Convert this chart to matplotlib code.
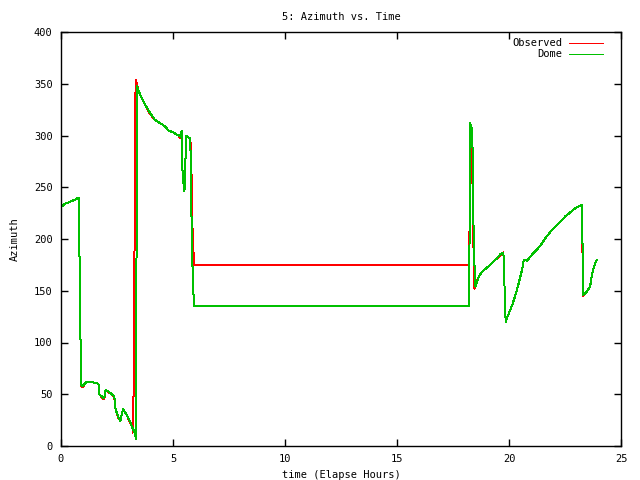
import numpy as np
import matplotlib
matplotlib.use("Agg")
import matplotlib.pyplot as plt

# elapsed hours / azimuth (deg)
t_obs = [0, 0.18, 0.4, 0.62, 0.7, 0.8, 0.82, 0.87, 0.9, 0.97, 1.0, 1.15, 1.37, 1.67, 1.71,
         1.82, 1.93, 1.99, 2.11, 2.26, 2.38, 2.44, 2.56, 2.65, 2.77, 2.93, 3.08,
         3.18, 3.22, 3.26, 3.30, 3.33, 3.38, 3.45, 3.6, 3.75, 3.97, 4.2, 4.42,
         4.64, 4.79, 5.01, 5.24, 5.31, 5.39, 5.43, 5.51, 5.54, 5.58, 5.76, 5.80,
         5.84, 5.88, 5.95, 18.23, 18.25, 18.28, 18.36, 18.40, 18.46, 18.5, 18.66,
         18.78, 19.0, 19.15, 19.3, 19.45, 19.6, 19.75, 19.78, 19.82, 19.85, 19.99,
         20.14, 20.29, 20.43, 20.58, 20.66, 20.81, 21.03, 21.26, 21.48, 21.63,
         21.85, 22.07, 22.3, 22.52, 22.75, 22.97, 23.24, 23.27, 23.30, 23.47,
         23.62, 23.7, 23.77, 23.84, 23.92]
az_obs = [231, 234, 236, 238, 239, 240, 194, 104, 58, 57, 58, 62, 62, 60, 50,
          47, 45, 54, 52, 50, 47, 35, 27, 24, 36, 30, 23,
          18, 13, 97, 268, 354, 350, 344, 336, 330, 321, 315, 312,
          309, 305, 303, 300, 298, 303, 260, 246, 260, 300, 297, 290,
          247, 199, 175, 175, 272, 310, 271, 205, 152, 157, 164,
          168, 172, 175, 178, 181, 184, 187, 170, 138, 120, 128,
          136, 146, 157, 170, 180, 179, 185, 190, 196, 201,
          207, 212, 217, 222, 226, 230, 233, 212, 145, 149,
          154, 165, 171, 176, 180]

t_dome = [0, 0.18, 0.4, 0.62, 0.7, 0.8, 0.82, 0.87, 0.9, 0.97, 1.0, 1.15, 1.37, 1.67, 1.71,
          1.82, 1.93, 1.99, 2.11, 2.26, 2.38, 2.44, 2.56, 2.65, 2.77, 2.93, 3.08,
          3.18, 3.27, 3.35, 3.37, 3.40, 3.45, 3.6, 3.75, 3.97, 4.2, 4.42,
          4.64, 4.79, 5.01, 5.24, 5.31, 5.39, 5.43, 5.51, 5.54, 5.58, 5.76, 5.80,
          5.82, 5.85, 5.90, 5.95, 18.23, 18.25, 18.36, 18.43, 18.5, 18.55, 18.66,
          18.78, 19.0, 19.15, 19.3, 19.45, 19.6, 19.75, 19.78, 19.82, 19.85, 19.99,
          20.14, 20.29, 20.43, 20.58, 20.66, 20.81, 21.03, 21.26, 21.48, 21.63,
          21.85, 22.07, 22.3, 22.52, 22.75, 22.97, 23.24, 23.27, 23.30, 23.32,
          23.47, 23.62, 23.7, 23.77, 23.84, 23.92]
az_dome = [231, 234, 236, 238, 239, 240, 194, 104, 59, 58, 59, 62, 62, 60, 50,
           48, 46, 54, 53, 50, 48, 35, 28, 24, 36, 30, 24,
           18, 14, 7, 178, 348, 344, 336, 330, 322, 315, 312,
           309, 305, 303, 300, 299, 304, 260, 246, 260, 300, 297, 275,
           230, 188, 152, 135, 135, 312, 306, 189, 154, 157, 164,
           168, 172, 175, 178, 181, 185, 187, 170, 138, 120, 128,
           136, 146, 157, 170, 180, 179, 185, 190, 196, 201,
           207, 212, 217, 222, 226, 230, 233, 212, 168, 146,
           149, 154, 165, 171, 176, 180]

plt.rcParams['font.family'] = ['DejaVu Sans Mono']
plt.rcParams['font.size'] = 7.5

fig = plt.figure(figsize=(6.4, 4.8), dpi=100)
ax = fig.add_axes([61/640, 34/480, 560/640, 414/480])

# gnuplot-like crisp 1px lines
ax.plot(t_obs, az_obs, color='#ff0000', lw=0.72, antialiased=False, label='Observed')
ax.plot(t_dome, az_dome, color='#00c000', lw=0.72, antialiased=False, label='Dome')

ax.set_xlim(0, 25)
ax.set_ylim(0, 400)
ax.set_xticks(np.arange(0, 26, 5))
ax.set_yticks(np.arange(0, 401, 50))
ax.tick_params(direction='in', top=True, right=True, length=5, width=1, pad=6)
for s in ax.spines.values():
    s.set_linewidth(1)

ax.set_title('5: Azimuth vs. Time', fontsize=7.5, pad=9)
ax.set_xlabel('time (Elapse Hours)', labelpad=4)
ax.set_ylabel('Azimuth', labelpad=10)

ax.legend(loc='upper right', bbox_to_anchor=(1 - 12/560, 1), frameon=False,
          markerfirst=False, handlelength=3.2, borderaxespad=0.2,
          labelspacing=0.1, handletextpad=0.7)

fig.savefig('out.png', dpi=100)
